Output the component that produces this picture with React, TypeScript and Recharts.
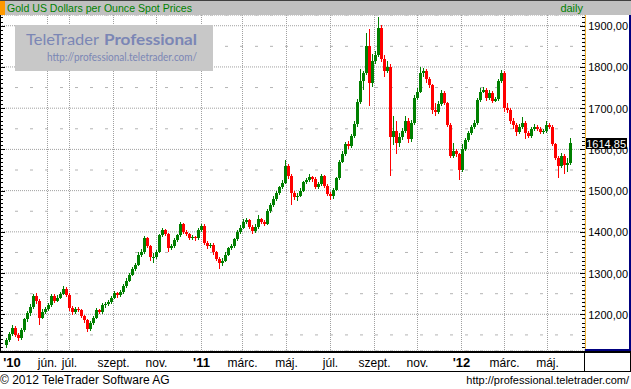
import { ComposedChart, Bar, XAxis, YAxis, CartesianGrid } from 'recharts';

// Gold spot, one candle per 3 trading days, Apr 2010 - Jun 2012
const opens = [
  1125, 1138, 1152, 1168, 1150, 1142, 1162, 1188, 1202, 1218,
  1245, 1232, 1192, 1205, 1214, 1222, 1245, 1232, 1240, 1250,
  1262, 1248, 1215, 1205, 1212, 1210, 1195, 1185, 1165, 1178,
  1192, 1210, 1205, 1222, 1225, 1230, 1240, 1252, 1246, 1255,
  1268, 1282, 1296, 1310, 1320, 1345, 1350, 1385, 1365, 1338,
  1340, 1352, 1392, 1405, 1395, 1360, 1365, 1380, 1392, 1418,
  1400, 1395, 1385, 1388, 1384, 1405, 1415, 1372, 1365, 1368,
  1350, 1335, 1325, 1330, 1345, 1360, 1366, 1382, 1400, 1410,
  1424, 1428, 1412, 1402, 1412, 1430, 1424, 1420, 1450, 1465,
  1480, 1495, 1508, 1518, 1560, 1535, 1495, 1485, 1488, 1500,
  1520, 1525, 1532, 1528, 1510, 1515, 1535, 1512, 1492, 1486,
  1502, 1530, 1570, 1590, 1612, 1608, 1632, 1662, 1715, 1765,
  1785, 1850, 1760, 1815, 1830, 1895, 1820, 1790, 1800, 1630,
  1645, 1615, 1630, 1645, 1670, 1625, 1665, 1725, 1740, 1785,
  1790, 1770, 1755, 1695, 1690, 1710, 1738, 1712, 1660, 1585,
  1595, 1588, 1550, 1600, 1622, 1640, 1655, 1665, 1720, 1740,
  1745, 1725, 1738, 1718, 1722, 1765, 1785, 1700, 1695, 1668,
  1660, 1642, 1655, 1665, 1640, 1632, 1650, 1655, 1650, 1642,
  1645, 1660, 1655, 1612, 1580, 1560, 1585, 1562, 1568,
];
const highs = [
  1142, 1158, 1175, 1172, 1155, 1166, 1192, 1208, 1224, 1250,
  1252, 1236, 1212, 1218, 1228, 1250, 1249, 1246, 1255, 1268,
  1266, 1252, 1220, 1218, 1217, 1214, 1199, 1188, 1183, 1197,
  1215, 1213, 1227, 1229, 1234, 1245, 1257, 1255, 1260, 1273,
  1287, 1300, 1315, 1325, 1352, 1358, 1390, 1388, 1368, 1348,
  1357, 1396, 1410, 1408, 1398, 1370, 1385, 1396, 1424, 1421,
  1405, 1398, 1393, 1391, 1410, 1420, 1418, 1378, 1374, 1372,
  1354, 1338, 1336, 1350, 1364, 1370, 1386, 1404, 1416, 1430,
  1433, 1431, 1416, 1418, 1440, 1434, 1428, 1455, 1470, 1486,
  1500, 1512, 1526, 1575, 1565, 1540, 1500, 1495, 1506, 1524,
  1530, 1540, 1536, 1532, 1520, 1540, 1538, 1516, 1496, 1506,
  1534, 1575, 1595, 1618, 1620, 1638, 1670, 1722, 1795, 1790,
  1882, 1892, 1832, 1838, 1920, 1902, 1828, 1815, 1808, 1680,
  1668, 1640, 1652, 1680, 1675, 1672, 1732, 1750, 1800, 1798,
  1795, 1775, 1758, 1712, 1718, 1745, 1742, 1716, 1664, 1615,
  1600, 1592, 1612, 1628, 1645, 1660, 1672, 1725, 1748, 1752,
  1750, 1745, 1742, 1728, 1770, 1792, 1790, 1712, 1700, 1675,
  1665, 1662, 1678, 1668, 1645, 1655, 1662, 1660, 1654, 1650,
  1668, 1665, 1658, 1616, 1585, 1592, 1590, 1578, 1628,
];
const lows = [
  1118, 1134, 1148, 1145, 1135, 1138, 1158, 1182, 1196, 1214,
  1226, 1175, 1188, 1200, 1208, 1218, 1228, 1229, 1236, 1246,
  1242, 1208, 1198, 1200, 1205, 1190, 1180, 1157, 1160, 1174,
  1188, 1200, 1200, 1216, 1220, 1226, 1236, 1240, 1242, 1250,
  1264, 1278, 1292, 1306, 1316, 1340, 1346, 1360, 1330, 1325,
  1335, 1348, 1388, 1390, 1350, 1355, 1360, 1376, 1388, 1395,
  1390, 1380, 1381, 1378, 1380, 1400, 1368, 1358, 1360, 1345,
  1330, 1310, 1318, 1326, 1341, 1356, 1362, 1378, 1396, 1406,
  1420, 1406, 1396, 1398, 1408, 1418, 1415, 1416, 1445, 1460,
  1476, 1490, 1504, 1515, 1528, 1465, 1478, 1475, 1484, 1496,
  1515, 1520, 1522, 1505, 1505, 1512, 1506, 1488, 1478, 1480,
  1498, 1526, 1566, 1585, 1600, 1603, 1628, 1655, 1710, 1745,
  1780, 1705, 1752, 1808, 1825, 1812, 1775, 1785, 1535, 1610,
  1590, 1605, 1622, 1640, 1615, 1618, 1660, 1720, 1736, 1775,
  1762, 1748, 1686, 1680, 1686, 1705, 1708, 1654, 1578, 1578,
  1582, 1525, 1545, 1596, 1618, 1636, 1650, 1660, 1715, 1736,
  1718, 1720, 1712, 1714, 1718, 1760, 1690, 1688, 1662, 1650,
  1632, 1638, 1650, 1625, 1628, 1628, 1645, 1644, 1638, 1638,
  1640, 1650, 1608, 1575, 1530, 1555, 1540, 1545, 1562,
];
const closes = [
  1138, 1152, 1168, 1150, 1142, 1162, 1188, 1202, 1218, 1245,
  1232, 1192, 1205, 1214, 1222, 1245, 1232, 1240, 1250, 1262,
  1248, 1215, 1205, 1212, 1210, 1195, 1185, 1165, 1178, 1192,
  1210, 1205, 1222, 1225, 1230, 1240, 1252, 1246, 1255, 1268,
  1282, 1296, 1310, 1320, 1345, 1350, 1385, 1365, 1338, 1340,
  1352, 1392, 1405, 1395, 1360, 1365, 1380, 1392, 1418, 1400,
  1395, 1385, 1388, 1384, 1405, 1415, 1372, 1365, 1368, 1350,
  1335, 1325, 1330, 1345, 1360, 1366, 1382, 1400, 1410, 1424,
  1428, 1412, 1402, 1412, 1430, 1424, 1420, 1450, 1465, 1480,
  1495, 1508, 1518, 1560, 1535, 1495, 1485, 1488, 1500, 1520,
  1525, 1532, 1528, 1510, 1515, 1535, 1512, 1492, 1486, 1502,
  1530, 1570, 1590, 1612, 1608, 1632, 1662, 1715, 1765, 1785,
  1850, 1760, 1815, 1830, 1895, 1820, 1790, 1800, 1630, 1645,
  1615, 1630, 1645, 1670, 1625, 1665, 1725, 1740, 1785, 1790,
  1770, 1755, 1695, 1690, 1710, 1738, 1712, 1660, 1585, 1595,
  1588, 1550, 1600, 1622, 1640, 1655, 1665, 1720, 1740, 1745,
  1725, 1738, 1718, 1722, 1765, 1785, 1700, 1695, 1668, 1660,
  1642, 1655, 1665, 1640, 1632, 1650, 1655, 1650, 1642, 1645,
  1660, 1655, 1612, 1580, 1560, 1585, 1562, 1568, 1615,
];

// trading-day index of the first session of each labelled month
const monthStartDay = [42, 64, 108, 151, 196, 237, 281, 325, 369, 412, 456, 499, 542];
const monthLabels = ['jún.', 'júl.', 'szept.', 'nov.', "'11", 'márc.', 'máj.', 'júl.', 'szept.', 'nov.', "'12", 'márc.', 'máj.'];
const firstYearLabel = "'10";
const firstYearDay = 6.5;

const priceTicks = [1200, 1300, 1400, 1500, 1600, 1700, 1800, 1900];
const halfTicks = [1150, 1250, 1350, 1450, 1550, 1650, 1750, 1850];
const lastPrice = 1614.85;

const Y_DOMAIN: [number, number] = [1111, 1926];
const X_DOMAIN: [number, number] = [-5.5, 579.5];
const AXIS_X = 585;
const FONT = "'Liberation Sans', Arial, sans-serif";
const WM_FONT = "Lato, 'Open Sans', sans-serif";

const data = closes.map((c, i) => ({ day: 3 * i + 1, o: opens[i], h: highs[i], l: lows[i], c }));

const minorTicks: number[] = [];
for (let v = 1120; v <= 1920; v += 10) minorTicks.push(v);
const axisTicks = [...minorTicks, lastPrice];

const fmt = (v: number) => v.toFixed(2).replace('.', ',');

function Candle(props: any) {
  const { x, y, width, height, payload } = props;
  if (!payload) return null;
  const { o, h, l, c } = payload;
  const top = Math.min(y, y + height);
  const span = Math.abs(height);
  const py = (v: number) => (h === l ? top : top + ((h - v) / (h - l)) * span);
  const cx = x + width / 2;
  const color = c >= o ? '#008000' : '#ff0000';
  const bTop = py(Math.max(o, c));
  const bBot = py(Math.min(o, c));
  return (
    <g shapeRendering="crispEdges">
      <rect x={cx - 0.5} y={top} width={1} height={Math.max(1, span)} fill={color} />
      <rect x={cx - 1.5} y={bTop} width={3} height={Math.max(1, bBot - bTop)} fill={color} />
    </g>
  );
}

function PriceTick(props: any) {
  const { y, payload } = props;
  const v = payload.value;
  const yy = Math.round(y) + 0.5;
  if (v === lastPrice) {
    return (
      <g>
        <rect x={586} y={Math.round(y) - 5} width={41} height={11} fill="#000" />
        <text x={626} y={y + 0.5} textAnchor="end" dominantBaseline="central" fontSize={11} fontFamily={FONT} fill="#fff">
          {fmt(v)}
        </text>
      </g>
    );
  }
  const major = v % 100 === 0;
  const len = major ? 5 : 3;
  return (
    <g>
      <line x1={AXIS_X - len} x2={AXIS_X} y1={yy} y2={yy} stroke="#000" shapeRendering="crispEdges" />
      <line x1={0} x2={len} y1={yy} y2={yy} stroke="#000" shapeRendering="crispEdges" />
      {major && (
        <text x={628} y={y + 0.5} textAnchor="end" dominantBaseline="central" fontSize={11} fontFamily={FONT} fill="#000">
          {fmt(v)}
        </text>
      )}
    </g>
  );
}

function DateTick(props: any) {
  const { x, payload } = props;
  const idx = monthStartDay.indexOf(payload.value);
  const label = idx < 0 ? firstYearLabel : monthLabels[idx];
  const isYear = label.startsWith("'");
  return (
    <text x={x} y={366.5} textAnchor="middle" fontSize={isYear ? 13 : 12} fontWeight={isYear ? 700 : 400} fontFamily={FONT} fill="#000">
      {label}
    </text>
  );
}

function Decorations() {
  return (
    <svg width={631} height={389} style={{ position: 'absolute', left: 0, top: 0, pointerEvents: 'none' }}>
      {/* header */}
      <rect x={0} y={0} width={631} height={1} fill="#404040" />
      <rect x={0} y={1} width={631} height={14} fill="#c0c0c0" />
      <rect x={0} y={1} width={5} height={14} fill="#ff9900" />
      <text x={7} y={12} fontSize={11} fontFamily={FONT} fill="#008000" textLength={185} lengthAdjust="spacingAndGlyphs">
        Gold US Dollars per Ounce Spot Prices
      </text>
      <text x={583} y={12} textAnchor="end" fontSize={11} fontFamily={FONT} fill="#008000">daily</text>

      {/* frame */}
      <g shapeRendering="crispEdges">
        <line x1={0.5} x2={0.5} y1={15} y2={351} stroke="#000" />
        <line x1={AXIS_X + 0.5} x2={AXIS_X + 0.5} y1={15} y2={350} stroke="#f0b030" />
        <rect x={629} y={15} width={2} height={336} fill="#000080" />
        <rect x={AXIS_X} y={349} width={46} height={2} fill="#000080" />
        <rect x={0} y={351} width={631} height={2} fill="#000" />
        <rect x={0} y={371} width={631} height={1} fill="#000" />
        <rect x={584} y={351} width={1} height={21} fill="#000" />
        <rect x={630} y={351} width={1} height={21} fill="#000" />
      </g>

      {/* watermark */}
      <rect x={15} y={25} width={198} height={46} fill="#c8c8c8" />
      <text x={26} y={45} fontSize={16} fontFamily={WM_FONT} fill="#7b86b5" textLength={73} lengthAdjust="spacingAndGlyphs">
        TeleTrader
      </text>
      <text x={104} y={45} fontSize={16} fontWeight={700} fontFamily={WM_FONT} fill="#7b86b5" textLength={93} lengthAdjust="spacingAndGlyphs">
        Professional
      </text>
      <text x={47} y={61} fontSize={11} fontFamily={WM_FONT} fill="#7b86b5" textLength={150} lengthAdjust="spacingAndGlyphs">
        http://professional.teletrader.com/
      </text>

      {/* footer */}
      <text x={0} y={384} fontSize={12} fontFamily={FONT} fill="#000">© 2012 TeleTrader Software AG</text>
      <text x={629} y={384} textAnchor="end" fontSize={11} fontFamily={FONT} fill="#000">http://professional.teletrader.com/</text>
    </svg>
  );
}

export default function App() {
  return (
    <div style={{ position: 'absolute', left: 0, top: 0, width: 631, height: 389, background: '#fff' }}>
      <ComposedChart width={631} height={389} data={data} margin={{ top: 15, right: 0, bottom: 18, left: 0 }}>
        <XAxis
          xAxisId="x"
          dataKey="day"
          type="number"
          domain={X_DOMAIN}
          allowDataOverflow
          ticks={[firstYearDay, ...monthStartDay]}
          interval={0}
          height={20}
          axisLine={false}
          tickLine={false}
          tick={<DateTick />}
        />
        <XAxis xAxisId="gx" dataKey="day" type="number" domain={X_DOMAIN} allowDataOverflow ticks={monthStartDay} interval={0} hide />
        <YAxis
          yAxisId="r"
          orientation="right"
          width={46}
          domain={Y_DOMAIN}
          allowDataOverflow
          ticks={axisTicks}
          interval={0}
          axisLine={false}
          tickLine={false}
          tick={<PriceTick />}
        />
        <YAxis yAxisId="g100" domain={Y_DOMAIN} allowDataOverflow ticks={priceTicks} interval={0} hide />
        <YAxis yAxisId="g50" domain={Y_DOMAIN} allowDataOverflow ticks={halfTicks} interval={0} hide />
        <CartesianGrid xAxisId="gx" yAxisId="g100" stroke="#a0a0a0" strokeDasharray="1 1" />
        <CartesianGrid xAxisId="gx" yAxisId="g50" vertical={false} stroke="#b4b4b4" strokeDasharray="3 12" />
        <Bar
          xAxisId="x"
          yAxisId="r"
          dataKey={(e: any) => [e.l, e.h]}
          barSize={3}
          shape={<Candle />}
          isAnimationActive={false}
        />
      </ComposedChart>
      <Decorations />
    </div>
  );
}
